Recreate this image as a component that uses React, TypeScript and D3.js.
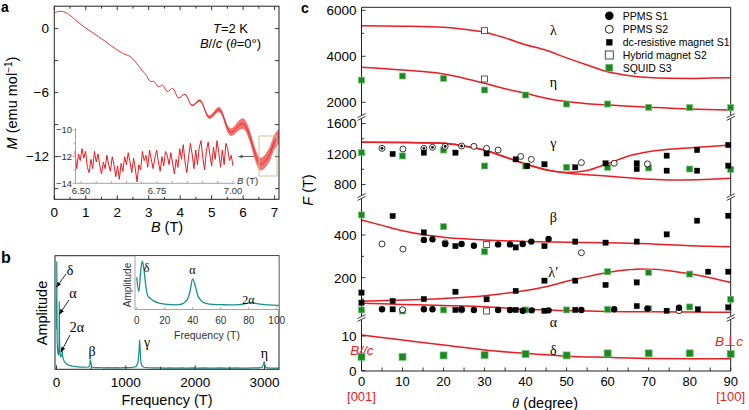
import React from "react";
import * as d3 from "d3";

const FONT = "'Liberation Sans', Arial, Helvetica, sans-serif";
const SERIF = "'Liberation Serif', 'Times New Roman', serif";
const RED = "#ea1c22";
const GREEN = "#1c8a22";
const TEAL = "#17908b";

// ---------------- Panel a: magnetization ----------------
const magB = [0, 0.1, 0.2, 0.3, 0.45, 0.6, 0.8, 1.0, 1.2, 1.4, 1.6, 1.8, 2.0, 2.2, 2.4, 2.6, 2.8, 2.93, 3.05, 3.17, 3.3, 3.44, 3.59, 3.76, 3.95, 4.15, 4.38, 4.63, 4.92, 5.24, 5.6, 6.0, 6.55, 6.8, 7.0, 7.14];
const magM = [1.45, 1.58, 1.62, 1.58, 1.35, 1.0, 0.5, 0.05, -0.35, -0.75, -1.15, -1.6, -2.0, -2.35, -2.6, -3.2, -3.95, -4.4, -4.95, -4.95, -5.45, -5.3, -5.9, -5.6, -6.5, -6.15, -7.2, -6.75, -8.3, -7.6, -9.7, -8.9, -12.7, -12.0, -10.6, -10.1];
const magNoise = [0, 0, 0, 0, 0, 0, 0, 0, 0, 0, 0, 0, 0, 0, 0, 0, 0, 0, 0, 0, 0, 0, 0, 0, 0.03, 0.05, 0.08, 0.12, 0.17, 0.24, 0.35, 0.5, 0.6, 0.65, 0.7, 0.7];
const insetStart = 6.48;
const insetEnd = 7.0;
const insetM = [
  -11.6, -12.9, -11.8, -12.3, -11.4, -12.1, -11.6, -12.8, -13.2, -12.2, -12.9, -11.6, -12.4, -11.8, -12.7,
  -13.3, -12.4, -12.9, -11.9, -12.6, -13.1, -12.0, -12.6, -13.5, -12.7, -13.7, -12.5, -13.1, -12.0, -12.6,
  -11.7, -12.4, -13.2, -12.1, -12.9, -13.9, -12.6, -13.0, -11.6, -12.3, -11.9, -12.8, -11.5, -12.2, -12.9,
  -12.1, -11.5, -12.4, -13.1, -12.0, -12.7, -11.6, -11.9, -12.6, -11.7, -12.5, -13.3, -12.2, -12.8, -11.4,
  -12.2, -11.1, -12.4, -13.2, -12.0, -11.0, -11.8, -12.9, -11.5, -12.6, -11.3, -10.8, -12.1, -13.0, -11.6,
  -10.9, -11.9, -12.7, -11.3, -12.2, -10.8, -11.7, -12.8, -11.5, -12.6, -11.0, -11.4, -12.3, -11.9, -12.7,
];
const aXTicks = [0, 1, 2, 3, 4, 5, 6, 7];
const aYTicks = [0, -6, -12];
const aInsetYTicks = [-10, -12, -14];
const aInsetXTicks = [6.5, 6.75, 7.0];

// ---------------- Panel b: FFT ----------------
const fftFreq = [0, 2, 4, 6, 9, 14, 20, 30, 36, 40, 44, 50, 60, 75, 82, 90, 110, 140, 180, 230, 280, 330, 380, 430, 465, 480, 488, 496, 505, 520, 560, 620, 680, 740, 800, 860, 920, 980, 1040, 1100, 1150, 1175, 1190, 1198, 1205, 1215, 1230, 1260, 1320, 1400, 1480, 1560, 1640, 1720, 1800, 1880, 1960, 2040, 2120, 2200, 2280, 2360, 2440, 2520, 2600, 2680, 2760, 2840, 2920, 2970, 2988, 2996, 3004, 3015, 3040, 3100, 3160, 3209];
const fftAmp = [0.62, 0.35, 0.95, 0.55, 0.25, 0.18, 0.14, 0.13, 0.22, 0.6, 0.25, 0.14, 0.11, 0.12, 0.16, 0.11, 0.07, 0.05, 0.035, 0.028, 0.024, 0.02, 0.02, 0.018, 0.02, 0.04, 0.085, 0.06, 0.025, 0.018, 0.015, 0.016, 0.013, 0.015, 0.013, 0.014, 0.013, 0.015, 0.014, 0.017, 0.025, 0.06, 0.16, 0.26, 0.2, 0.07, 0.03, 0.018, 0.014, 0.012, 0.013, 0.011, 0.012, 0.011, 0.012, 0.01, 0.012, 0.011, 0.012, 0.01, 0.011, 0.012, 0.01, 0.011, 0.012, 0.01, 0.011, 0.012, 0.012, 0.02, 0.05, 0.07, 0.045, 0.02, 0.012, 0.011, 0.01, 0.01];
const zoomFreq = [0, 1.5, 3, 4, 5, 6.5, 8, 10, 12, 16, 20, 25, 30, 33, 36, 38, 40, 42, 44, 47, 52, 60, 70, 76, 80, 82, 84, 88, 94, 100, 101.6];
const zoomAmp = [0.6, 0.33, 0.75, 0.9, 0.78, 0.45, 0.25, 0.2, 0.16, 0.12, 0.1, 0.09, 0.09, 0.11, 0.18, 0.33, 0.57, 0.42, 0.24, 0.14, 0.1, 0.09, 0.085, 0.1, 0.125, 0.13, 0.12, 0.1, 0.085, 0.075, 0.075];
const bXTicks = [0, 1000, 2000, 3000];
const bInsetXTicks = [0, 20, 40, 60, 80, 100];

// ---------------- Panel c: angular dependence ----------------
const thetaTicks = [0, 10, 20, 30, 40, 50, 60, 70, 80, 90];
const lambdaFitT = [0, 10, 20, 25, 30, 35, 40, 45, 50, 55, 60, 65, 70, 75, 80, 85, 90];
const lambdaFitF = [5330, 5310, 5260, 5180, 5050, 4800, 4500, 4260, 3930, 3620, 3330, 3170, 3080, 3045, 3040, 3055, 3070];
const etaFitT = [0, 10, 20, 25, 30, 35, 40, 45, 50, 55, 60, 70, 80, 90];
const etaFitF = [3520, 3400, 3230, 3050, 2830, 2590, 2390, 2180, 2030, 1940, 1880, 1790, 1710, 1665];
const gamma1FitT = [0, 10, 20, 25, 30, 35, 40, 45, 50, 55, 60, 66, 70, 75, 82, 90];
const gamma1FitF = [1353, 1350, 1340, 1305, 1252, 1160, 1070, 990, 958, 985, 1075, 1187, 1230, 1262, 1288, 1318];
const gamma2FitT = [0, 10, 20, 25, 30, 35, 40, 45, 50, 55, 62, 70, 75, 82, 90];
const gamma2FitF = [1353, 1350, 1340, 1305, 1252, 1160, 1070, 995, 950, 928, 903, 870, 860, 862, 881];
const betaFitT = [0, 5, 10, 15, 20, 25, 30, 40, 50, 60, 70, 80, 90];
const betaFitF = [470, 445, 420, 402, 390, 382, 377, 370, 366, 364, 359, 350, 345];
const lamPFitT = [0, 10, 20, 30, 40, 45, 50, 55, 60, 65, 68, 72, 75, 80, 85, 90];
const lamPFitF = [90, 95, 103, 116, 140, 158, 183, 205, 224, 237, 241, 239, 233, 218, 200, 178];
const alphaFitT = [0, 10, 20, 30, 40, 50, 60, 70, 80, 90];
const alphaFitF = [80, 75, 70, 64, 52, 46, 42, 40, 39, 38];
const deltaFitT = [0, 10, 20, 30, 40, 50, 60, 70, 80, 90];
const deltaFitF = [10.3, 8.85, 7.4, 6.0, 5.0, 4.2, 3.85, 3.55, 3.45, 3.45];

// PPMS S1 (filled circles)
const ppms1Low: [number, number][] = [
  [15.2, 377], [17.3, 380], [20.4, 358], [24.4, 358], [27.4, 350], [33.3, 356], [36.2, 356], [39.3, 358], [41.4, 369], [45.6, 381],
  [5, 52], [15.2, 52], [17.3, 52], [24.4, 52], [27.4, 49], [33.3, 49], [36.2, 49], [39.3, 45], [41.5, 47], [45.6, 47], [53.6, 49], [61.6, 52], [69.7, 55], [77.4, 59],
];
// PPMS S1 + S2 overlapping (dotted circles) in gamma branch
const ppmsBothGamma: [number, number][] = [[5, 1274], [15.2, 1274], [17.3, 1288], [20.4, 1300], [24.4, 1305]];
// PPMS S2 (open circles)
const ppms2Gamma: [number, number][] = [[10.1, 1265], [27.4, 1300], [30.5, 1274], [33.3, 1252], [38.8, 1168], [41.4, 1130], [53.6, 1087], [61.6, 1078], [69.7, 1070]];
const ppms2Low: [number, number][] = [[5, 358], [10.1, 334], [20.4, 363], [53.6, 317], [10, 50], [24.4, 49], [77.4, 45]];
// dc-resistive magnet S1 (filled squares)
const dcGamma: [number, number][] = [[7.6, 1200], [15.2, 1217], [22.9, 1217], [30.5, 1208], [37.6, 1130], [40.4, 1043], [44.6, 1065], [52.1, 1026], [59.5, 1078], [67.1, 1078], [67.1, 1003], [74.4, 1178], [74.4, 981], [81.8, 1252], [81.8, 981], [89.4, 1318], [89.4, 1047]];
const dcLow: [number, number][] = [
  [7.6, 489], [15.2, 412], [22.9, 348], [37.6, 342], [44.6, 348], [52.1, 369], [59.5, 364], [67.1, 369], [74.4, 403], [81.8, 467], [89.4, 490],
  [0, 130], [0, 83], [7.6, 91], [15.2, 100], [22.9, 134], [30.5, 99], [37.6, 138], [44.6, 186], [52.1, 186], [59.5, 166], [67.1, 178], [84.5, 228], [89.4, 228], [89.4, 61],
  [7.6, 52], [22.9, 49], [37.6, 49], [44.6, 45], [52.1, 49], [67.1, 67], [74.4, 45], [82, 52],
];
// Hybrid magnet S2 (open squares)
const hybridHigh: [number, number][] = [[30, 5113], [30, 3013]];
const hybridLow: [number, number][] = [[30.5, 356], [30.5, 44]];
// SQUID S3 (green squares)
const squidEta: [number, number][] = [[0, 2965], [10, 3143], [20, 3043], [30, 2535], [40, 2317], [50, 1926], [60, 1926], [70, 1783], [80, 1770], [90, 1770]];
const squidGamma: [number, number][] = [[0, 1217], [10, 1174], [20, 1252], [30, 1043], [40, 1043], [50, 1026], [60, 1026], [70, 1017], [80, 1003], [90, 998]];
const squidLow: [number, number][] = [
  [0, 494], [20, 439], [30, 322],
  [60, 228], [70, 225], [80, 217], [90, 99],
  [0, 49], [10, 44], [20, 49], [40, 49], [50, 49], [60, 52], [70, 55], [80, 63],
];
const squidDelta: [number, number][] = [[0, 4.0], [10, 4.0], [20, 4.4], [30, 4.5], [40, 4.8], [50, 4.4], [60, 5.0], [70, 5.0], [80, 5.0], [90, 4.8]];
const legendLabels = ["PPMS S1", "PPMS S2", "dc-resistive magnet S1", "Hybrid magnet S2", "SQUID S3"];

function zip(a: number[], b: number[]): [number, number][] {
  return a.map((v, i) => [v, b[i]]);
}

export default function App() {
  // ---------- panel a scales ----------
  const xA = d3.scaleLinear().domain([0, 7.14]).range([54.3, 279]);
  const yA = d3.scaleLinear().domain([-16, 2.1]).range([199.3, 6.2]);
  const xAi = d3.scaleLinear().domain([6.5, 7.0]).range([81, 233]);
  const yAi = d3.scaleLinear().domain([-14, -10]).range([183.3, 130]);
  const magPts = zip(magB, magM);
  const magLine = d3.line<[number, number]>().x((d) => xA(d[0])).y((d) => yA(d[1])).curve(d3.curveCatmullRom.alpha(0.5));
  const magArea = d3
    .area<number>()
    .x((i) => xA(magB[i]))
    .y0((i) => yA(magM[i] - magNoise[i]))
    .y1((i) => yA(magM[i] + magNoise[i]))
    .curve(d3.curveCatmullRom.alpha(0.5));
  const insetStep = (insetEnd - insetStart) / (insetM.length - 1);
  const insetPts: [number, number][] = insetM.map((m, i) => [insetStart + i * insetStep, m]);
  const insetLine = d3.line<[number, number]>().x((d) => xAi(d[0])).y((d) => yAi(d[1]));

  // ---------- panel b scales ----------
  const xB = d3.scaleLinear().domain([-22, 3209]).range([55, 279]);
  const yB = d3.scaleLinear().domain([0, 1]).range([369.3, 255.7]);
  const xBi = d3.scaleLinear().domain([0, 100]).range([136.7, 276.7]);
  const yBi = d3.scaleLinear().domain([0, 1]).range([309.5, 255.7]);
  const fftLine = d3.line<[number, number]>().x((d) => xB(d[0])).y((d) => yB(d[1]));
  const zoomLine = d3.line<[number, number]>().x((d) => xBi(d[0])).y((d) => yBi(d[1])).curve(d3.curveCatmullRom.alpha(0.5));

  // ---------- panel c scales ----------
  const xC = d3.scaleLinear().domain([0, 90]).range([361.5, 730.7]);
  const y1 = d3.scaleLinear().domain([2000, 6000]).range([102.3, 10.3]);
  const y2 = d3.scaleLinear().domain([800, 1600]).range([184.5, 123.5]);
  const y3 = d3.scaleLinear().domain([200, 400]).range([277.7, 235]);
  const y4 = d3.scaleLinear().domain([0, 10]).range([370.7, 336]);
  const segs = [
    { y: y1, top: 7.3, bot: 115.3, major: [2000, 4000, 6000], minor: [3000, 5000] },
    { y: y2, top: 118.7, bot: 195.3, major: [800, 1200, 1600], minor: [1000, 1400] },
    { y: y3, top: 198.7, bot: 316.3, major: [200, 400], minor: [100, 300, 500] },
    { y: y4, top: 319.7, bot: 371, major: [0, 10], minor: [5] },
  ];
  const breaks = [117, 197, 318];
  const fitLine = (ys: d3.ScaleLinear<number, number>) =>
    d3.line<[number, number]>().x((d) => xC(d[0])).y((d) => ys(d[1])).curve(d3.curveMonotoneX);

  const fits: { t: number[]; f: number[]; seg: number }[] = [
    { t: lambdaFitT, f: lambdaFitF, seg: 0 },
    { t: etaFitT, f: etaFitF, seg: 0 },
    { t: gamma1FitT, f: gamma1FitF, seg: 1 },
    { t: gamma2FitT, f: gamma2FitF, seg: 1 },
    { t: betaFitT, f: betaFitF, seg: 2 },
    { t: lamPFitT, f: lamPFitF, seg: 2 },
    { t: alphaFitT, f: alphaFitF, seg: 2 },
    { t: deltaFitT, f: deltaFitF, seg: 3 },
  ];

  const sq = (x: number, y: number, s: number, fill: string, stroke: string, sw: number, key: string) => (
    <rect key={key} x={x - s / 2} y={y - s / 2} width={s} height={s} fill={fill} stroke={stroke} strokeWidth={sw} />
  );
  const greenSq = (x: number, y: number, key: string, s = 6) => sq(x, y, s, GREEN, "#6fc46f", 0.7, key);

  const markersFor = (pts: [number, number][], ys: d3.ScaleLinear<number, number>, kind: string, pre: string) =>
    pts.map((p, i) => {
      const x = xC(p[0]);
      const y = ys(p[1]);
      const k = `${pre}${i}`;
      if (kind === "fc") return <circle key={k} cx={x} cy={y} r={3.2} fill="#000" />;
      if (kind === "oc") return <circle key={k} cx={x} cy={y} r={3} fill="#fff" stroke="#000" strokeWidth={0.8} />;
      if (kind === "dc")
        return (
          <g key={k}>
            <circle cx={x} cy={y} r={3} fill="#fff" stroke="#000" strokeWidth={0.8} />
            <circle cx={x} cy={y} r={1.4} fill="#000" />
          </g>
        );
      if (kind === "fs") return sq(x, y, 5.4, "#000", "#000", 0.3, k);
      if (kind === "os") return sq(x, y, 6, "#fff", "#333", 0.8, k);
      return greenSq(x, y, k);
    });

  const sliceMark = (x: number, y: number, key: string) => (
    <g key={key} stroke="#222" strokeWidth={0.9}>
      <rect x={x - 3} y={y - 1.4} width={6} height={2.8} fill="#fff" stroke="none" />
      <line x1={x - 4} y1={y + 0.6} x2={x + 4} y2={y - 3.4} />
      <line x1={x - 4} y1={y + 3.4} x2={x + 4} y2={y - 0.6} />
    </g>
  );

  const legendY = [15.7, 29.3, 42.3, 55, 67.7];

  return (
    <svg
      width={749}
      height={410}
      style={{ position: "absolute", left: 0, top: 0, background: "#fff" }}
      fontFamily={FONT}
    >
      <defs>
        <clipPath id="clipA">
          <rect x={54.3} y={6.2} width={224.7} height={193.1} />
        </clipPath>
        <clipPath id="clipB">
          <rect x={55} y={255.7} width={224} height={113.6} />
        </clipPath>
        {segs.map((s, i) => (
          <clipPath id={`clipC${i}`} key={i}>
            <rect x={361.5} y={s.top} width={369.2} height={s.bot - s.top} />
          </clipPath>
        ))}
        <marker id="arr" viewBox="0 0 10 10" refX="9" refY="5" markerWidth="6" markerHeight="6" orient="auto-start-reverse">
          <path d="M0,1 L10,5 L0,9 z" fill="#111" />
        </marker>
        <marker id="arrG" viewBox="0 0 10 10" refX="9" refY="5" markerWidth="6" markerHeight="5" orient="auto-start-reverse">
          <path d="M0,1 L10,5 L0,9 z" fill="#555" />
        </marker>
      </defs>

      {/* ================= Panel a ================= */}
      <text x={1} y={12} fontSize={14} fontWeight="bold">a</text>
      <g clipPath="url(#clipA)">
        <path d={magArea(d3.range(magB.length)) || ""} fill="#f03535" opacity={0.7} />
        <path d={magLine(magPts) || ""} fill="none" stroke={RED} strokeWidth={0.9} />
      </g>
      <rect x={54.3} y={6.2} width={224.7} height={193.1} fill="none" stroke="#222" strokeWidth={1} />
      {d3.range(0, 7.01, 0.5).map((v) => (
        <g key={`axt${v}`} stroke="#222" strokeWidth={0.9}>
          <line x1={xA(v)} x2={xA(v)} y1={199.3} y2={199.3 - (v % 1 === 0 ? 4 : 2.5)} />
          <line x1={xA(v)} x2={xA(v)} y1={6.2} y2={6.2 + (v % 1 === 0 ? 4 : 2.5)} />
        </g>
      ))}
      {[0, -3, -6, -9, -12, -15].map((v) => (
        <g key={`ayt${v}`} stroke="#222" strokeWidth={0.9}>
          <line x1={54.3} x2={58.3} y1={yA(v)} y2={yA(v)} />
          <line x1={279} x2={275} y1={yA(v)} y2={yA(v)} />
        </g>
      ))}
      {aXTicks.map((v) => (
        <text key={`axl${v}`} x={xA(v)} y={216.5} fontSize={13.5} textAnchor="middle">{v}</text>
      ))}
      {aYTicks.map((v) => (
        <text key={`ayl${v}`} x={49} y={yA(v) + 4.7} fontSize={13.5} textAnchor="end">{v === 0 ? "0" : `\u2212${-v}`}</text>
      ))}
      <text x={167} y={232} fontSize={14.5} textAnchor="middle">
        <tspan fontStyle="italic">B</tspan> (T)
      </text>
      <text transform="translate(17,103) rotate(-90)" fontSize={14.5} textAnchor="middle">
        <tspan fontStyle="italic">M</tspan> (emu mol<tspan dy={-5} fontSize={10}>{"\u22121"}</tspan>
        <tspan dy={5}>)</tspan>
      </text>
      <text x={248} y={33} fontSize={13} textAnchor="end">
        <tspan fontStyle="italic">T</tspan>=2 K
      </text>
      <text x={261} y={48} fontSize={13} textAnchor="end">
        <tspan fontStyle="italic">B</tspan>//<tspan fontStyle="italic">c</tspan> (<tspan fontStyle="italic" fontFamily={SERIF}>θ</tspan>=0°)
      </text>
      {/* inset a */}
      <path d={insetLine(insetPts) || ""} fill="none" stroke={RED} strokeWidth={1} />
      <line x1={75.5} x2={75.5} y1={128} y2={183.3} stroke="#999" strokeWidth={0.9} />
      <line x1={75.5} x2={235} y1={183.3} y2={183.3} stroke="#999" strokeWidth={0.9} />
      {[-10, -11, -12, -13, -14].map((v) => (
        <line key={`aiy${v}`} x1={75.5} x2={v % 2 === 0 ? 72.5 : 73.5} y1={yAi(v)} y2={yAi(v)} stroke="#999" strokeWidth={0.8} />
      ))}
      {d3.range(6.5, 7.001, 0.05).map((v) => (
        <line key={`aix${v}`} x1={xAi(v)} x2={xAi(v)} y1={183.3} y2={181} stroke="#999" strokeWidth={0.8} />
      ))}
      {aInsetYTicks.map((v) => (
        <text key={`aiyl${v}`} x={72} y={yAi(v) + 3.4} fontSize={9.5} textAnchor="end" fill="#333">{`\u2212${-v}`}</text>
      ))}
      {aInsetXTicks.map((v) => (
        <text key={`aixl${v}`} x={xAi(v)} y={194} fontSize={9.5} textAnchor="middle" fill="#333">{v.toFixed(2)}</text>
      ))}
      <text x={237} y={183.5} fontSize={9.5} fill="#333">
        <tspan fontStyle="italic">B</tspan> (T)
      </text>
      <line x1={254} x2={238.5} y1={156.5} y2={156.5} stroke="#555" strokeWidth={0.9} markerEnd="url(#arrG)" />
      <rect x={259} y={136} width={18} height={40} fill="none" stroke="#cbbf9a" strokeWidth={1} />

      {/* ================= Panel b ================= */}
      <text x={1} y={263} fontSize={16} fontWeight="bold">b</text>
      <g clipPath="url(#clipB)">
        <path d={fftLine(zip(fftFreq, fftAmp)) || ""} fill="none" stroke={TEAL} strokeWidth={1.2} />
      </g>
      <rect x={55} y={255.7} width={224} height={113.6} fill="none" stroke="#222" strokeWidth={1} />
      {d3.range(0, 3001, 500).map((v) => (
        <line key={`bxt${v}`} x1={xB(v)} x2={xB(v)} y1={369.3} y2={369.3 - (v % 1000 === 0 ? 4 : 2.5)} stroke="#222" strokeWidth={0.9} />
      ))}
      {bXTicks.map((v) => (
        <text key={`bxl${v}`} x={xB(v)} y={387} fontSize={13.5} textAnchor="middle">{v}</text>
      ))}
      <text x={167} y={405} fontSize={14.5} textAnchor="middle">Frequency (T)</text>
      <text transform="translate(47,313) rotate(-90)" fontSize={14.5} textAnchor="middle">Amplitude</text>
      {/* peak labels */}
      <text x={70} y={275} fontSize={14} fontFamily={SERIF} textAnchor="middle">δ</text>
      <line x1={66} x2={56.5} y1={274} y2={287} stroke="#111" strokeWidth={0.9} markerEnd="url(#arr)" />
      <text x={73} y={298} fontSize={14} fontFamily={SERIF} textAnchor="middle">α</text>
      <line x1={69} x2={59.5} y1={300} y2={314} stroke="#111" strokeWidth={0.9} markerEnd="url(#arr)" />
      <text x={77} y={332} fontSize={14} fontFamily={SERIF} textAnchor="middle">2α</text>
      <line x1={70} x2={61} y1={335} y2={352} stroke="#111" strokeWidth={0.9} markerEnd="url(#arr)" />
      <text x={92} y={356} fontSize={14} fontFamily={SERIF} textAnchor="middle">β</text>
      <text x={147} y={347} fontSize={14} fontFamily={SERIF} textAnchor="middle">γ</text>
      <text x={264.5} y={358} fontSize={14} fontFamily={SERIF} textAnchor="middle">η</text>
      {/* inset b */}
      <rect x={135} y={256.2} width={143.5} height={53.3} fill="#fff" />
      <path d={zoomLine(zip(zoomFreq, zoomAmp)) || ""} fill="none" stroke={TEAL} strokeWidth={1.3} />
      <line x1={135} x2={135} y1={255.7} y2={309.5} stroke="#999" strokeWidth={0.9} />
      <line x1={135} x2={279} y1={309.5} y2={309.5} stroke="#999" strokeWidth={0.9} />
      {bInsetXTicks.map((v) => (
        <g key={`bix${v}`}>
          <line x1={xBi(v)} x2={xBi(v)} y1={309.5} y2={307} stroke="#999" strokeWidth={0.8} />
          <text x={xBi(v)} y={324} fontSize={10} textAnchor="middle" fill="#333">{v}</text>
        </g>
      ))}
      <text x={207} y={339} fontSize={10.5} textAnchor="middle" fill="#333">Frequency (T)</text>
      <text transform="translate(131,285) rotate(-90)" fontSize={10} textAnchor="middle" fill="#333">Amplitude</text>
      <text x={146.7} y={272} fontSize={12} fontFamily={SERIF} textAnchor="middle">δ</text>
      <text x={192.3} y={274} fontSize={12} fontFamily={SERIF} textAnchor="middle">α</text>
      <text x={248.3} y={304} fontSize={12} fontFamily={SERIF} textAnchor="middle">2α</text>

      {/* ================= Panel c ================= */}
      <text x={301} y={13} fontSize={14} fontWeight="bold">c</text>
      {fits.map((f, i) => (
        <g key={`fit${i}`} clipPath={`url(#clipC${f.seg})`}>
          <path d={fitLine(segs[f.seg].y)(zip(f.t, f.f)) || ""} fill="none" stroke={RED} strokeWidth={1.5} />
        </g>
      ))}
      {/* frame */}
      <line x1={361.5} x2={730.7} y1={7.3} y2={7.3} stroke="#222" strokeWidth={1} />
      <line x1={361.5} x2={730.7} y1={371} y2={371} stroke="#222" strokeWidth={1} />
      {segs.map((s, i) => (
        <g key={`seg${i}`} stroke="#222" strokeWidth={1}>
          <line x1={361.5} x2={361.5} y1={s.top} y2={s.bot} />
          <line x1={730.7} x2={730.7} y1={s.top} y2={s.bot} />
          {s.major.map((v) => (
            <line key={`mj${v}`} x1={361.5} x2={365.5} y1={s.y(v)} y2={s.y(v)} strokeWidth={0.9} />
          ))}
          {s.minor.map((v) => (
            <line key={`mn${v}`} x1={361.5} x2={364} y1={s.y(v)} y2={s.y(v)} strokeWidth={0.9} />
          ))}
        </g>
      ))}
      {segs.map((s, i) =>
        s.major.map((v) => (
          <text key={`cyl${i}-${v}`} x={356.5} y={s.y(v) + 4.8} fontSize={13.5} textAnchor="end">{v}</text>
        ))
      )}
      {breaks.map((b, i) => sliceMark(361.5, b, `bl${i}`))}
      {breaks.map((b, i) => sliceMark(730.7, b, `br${i}`))}
      {d3.range(0, 91, 5).map((v) => (
        <line key={`cxt${v}`} x1={xC(v)} x2={xC(v)} y1={371} y2={367.5} stroke="#222" strokeWidth={0.9} />
      ))}
      {thetaTicks.map((v) => (
        <text key={`cxl${v}`} x={xC(v)} y={386} fontSize={13} textAnchor="middle">{v}</text>
      ))}
      <text x={xC(0)} y={401} fontSize={13} textAnchor="middle" fill={RED}>[001]</text>
      <text x={xC(90)} y={401} fontSize={13} textAnchor="middle" fill={RED}>[100]</text>
      <text x={545} y={408} fontSize={14.5} textAnchor="middle">
        <tspan fontStyle="italic" fontFamily={SERIF}>θ</tspan> (degree)
      </text>
      <text transform="translate(313,190) rotate(-90)" fontSize={14.5} textAnchor="middle">
        <tspan fontStyle="italic">F</tspan> (T)
      </text>
      <text x={362} y={355} fontSize={13.5} fontStyle="italic" fill={RED} textAnchor="middle">B//c</text>
      <text x={729} y={346} fontSize={13.5} fontStyle="italic" fill={RED} textAnchor="middle">
        B<tspan fontStyle="normal">⊥</tspan>c
      </text>
      {/* Greek branch labels */}
      {[
        ["λ", 30], ["η", 82], ["γ", 143], ["β", 217], ["λ′", 272], ["α", 322], ["δ", 350],
      ].map(([t, y]) => (
        <text key={`gl${t}`} x={553.3} y={(y as number) + 4.5} fontSize={14} fontFamily={SERIF} textAnchor="middle">{t}</text>
      ))}
      {/* markers */}
      {markersFor(squidEta, y1, "g", "se")}
      {markersFor(squidGamma, y2, "g", "sg")}
      {markersFor(squidLow, y3, "g", "sl")}
      {squidDelta.map((p, i) => greenSq(xC(p[0]), y4(p[1]), `sd${i}`, 7))}
      {markersFor(ppms2Gamma, y2, "oc", "p2g")}
      {markersFor(ppms2Low, y3, "oc", "p2l")}
      {markersFor(ppmsBothGamma, y2, "dc", "pbg")}
      {markersFor(ppms1Low, y3, "fc", "p1l")}
      {markersFor(dcGamma, y2, "fs", "dg")}
      {markersFor(dcLow, y3, "fs", "dl")}
      {markersFor(hybridHigh, y1, "os", "hh")}
      {markersFor(hybridLow, y3, "os", "hl")}
      {/* legend */}
      <circle cx={609.3} cy={legendY[0]} r={4.3} fill="#000" />
      <circle cx={609.3} cy={legendY[1]} r={4} fill="#fff" stroke="#000" strokeWidth={0.9} />
      {sq(609.3, legendY[2], 6, "#000", "#000", 0.3, "lg2")}
      {sq(609.3, legendY[3], 8, "#fff", "#333", 0.9, "lg3")}
      {greenSq(609.3, legendY[4], "lg4", 7)}
      {legendLabels.map((t, i) => (
        <text key={`lt${i}`} x={622.7} y={legendY[i] + 3.8} fontSize={10.5}>{t}</text>
      ))}
    </svg>
  );
}
